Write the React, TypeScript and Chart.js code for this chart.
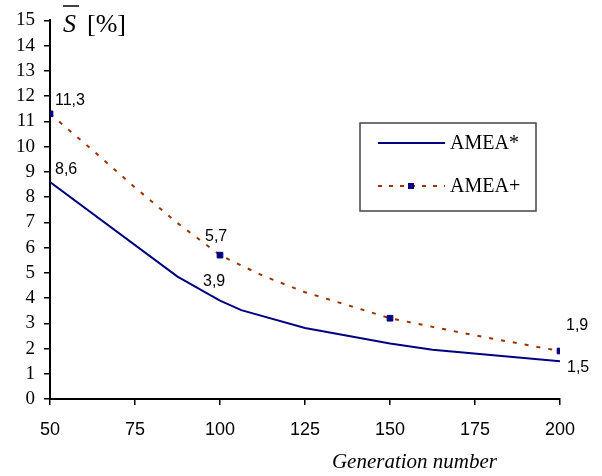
import React, { useEffect, useRef } from "react";
import { Chart, registerables } from "chart.js";

Chart.register(...registerables);

// ---- data ----
const genAStar = [50, 87.5, 100, 106.25, 125, 150, 162.5, 200];
const valAStar = [8.6, 4.85, 3.9, 3.52, 2.81, 2.2, 1.95, 1.5];

const genAPlus = [50, 62.5, 75, 87.5, 100, 112.5, 125, 137.5, 150, 175, 200];
const valAPlus = [11.3, 9.86, 8.38, 6.97, 5.7, 4.89, 4.23, 3.72, 3.2, 2.52, 1.9];

const markerGens = [50, 100, 150, 200];

const labelGens = [50, 100, 200];
const labelsAStar = ["8,6", "3,9", "1,5"];
const labelsAPlus = ["11,3", "5,7", "1,9"];

const xTickStep = 25;
const yTickStep = 1;
const seriesNames = ["AMEA*", "AMEA+"];
const xTitle = "Generation number";

// ---- styles ----
const NAVY = "#000080";
const BROWN = "#993300";
const SERIF = "'Liberation Serif', 'Times New Roman', serif";
const SANS = "'Liberation Sans', Arial, sans-serif";

// label offsets (px) relative to the data point: [dx, dy], left aligned, middle baseline
const offAStar = [[5, -12], [-17, -19], [7, 6]];
const offAPlus = [[5, -13], [-15, -19], [6, -25]];

const annotPlugin = {
  id: "annot",
  afterDatasetsDraw(chart: any) {
    const { ctx, scales } = chart;
    const xs = scales.x;
    const ys = scales.y;
    ctx.save();
    // data labels
    ctx.fillStyle = "#000";
    ctx.font = `16px ${SANS}`;
    ctx.textAlign = "left";
    ctx.textBaseline = "middle";
    labelGens.forEach((g, i) => {
      const ia = genAStar.indexOf(g);
      const ip = genAPlus.indexOf(g);
      const xa = xs.getPixelForValue(g);
      ctx.fillText(labelsAStar[i], xa + offAStar[i][0], ys.getPixelForValue(valAStar[ia]) + offAStar[i][1]);
      ctx.fillText(labelsAPlus[i], xa + offAPlus[i][0], ys.getPixelForValue(valAPlus[ip]) + offAPlus[i][1]);
    });

    // y title: S with overline [%]
    ctx.textBaseline = "alphabetic";
    ctx.font = `italic 26px ${SERIF}`;
    ctx.fillText("S", 63, 32);
    const sw = ctx.measureText("S").width;
    ctx.strokeStyle = "#000";
    ctx.lineWidth = 1.5;
    ctx.beginPath();
    ctx.moveTo(63, 6);
    ctx.lineTo(63 + sw + 3, 6);
    ctx.stroke();
    ctx.font = `26px ${SERIF}`;
    ctx.fillText("[%]", 87, 32);

    // x title
    ctx.font = `italic 21px ${SERIF}`;
    ctx.textAlign = "right";
    ctx.fillText(xTitle, 497, 468);

    // legend box
    const bx = 360, by = 123, bw = 176, bh = 88;
    ctx.fillStyle = "#fff";
    ctx.fillRect(bx, by, bw, bh);
    ctx.strokeStyle = "#444";
    ctx.lineWidth = 1.5;
    ctx.strokeRect(bx, by, bw, bh);
    // row 1
    ctx.strokeStyle = NAVY;
    ctx.lineWidth = 2;
    ctx.setLineDash([]);
    ctx.beginPath();
    ctx.moveTo(378, 143);
    ctx.lineTo(445, 143);
    ctx.stroke();
    // row 2
    ctx.strokeStyle = BROWN;
    ctx.setLineDash([4, 7]);
    ctx.beginPath();
    ctx.moveTo(378, 186);
    ctx.lineTo(445, 186);
    ctx.stroke();
    ctx.setLineDash([]);
    ctx.fillStyle = NAVY;
    ctx.fillRect(408, 183, 6, 6);
    ctx.fillStyle = "#000";
    ctx.textAlign = "left";
    ctx.textBaseline = "middle";
    ctx.font = `20px ${SERIF}`;
    ctx.fillText(seriesNames[0], 450, 144);
    ctx.fillText(seriesNames[1], 450, 187);
    ctx.restore();
  },
};

export default function App() {
  const ref = useRef<HTMLCanvasElement | null>(null);
  useEffect(() => {
    document.body.style.margin = "0";
    const canvas = ref.current;
    if (!canvas) return;
    const chart = new Chart(canvas, {
      type: "scatter",
      data: {
        datasets: [
          {
            label: seriesNames[0],
            data: genAStar.map((x, i) => ({ x, y: valAStar[i] })),
            showLine: true,
            borderColor: NAVY,
            borderWidth: 2,
            pointRadius: 0,
            tension: 0,
          },
          {
            label: seriesNames[1],
            data: genAPlus.map((x, i) => ({ x, y: valAPlus[i] })),
            showLine: true,
            borderColor: BROWN,
            borderWidth: 2,
            borderDash: [4, 8],
            tension: 0,
            pointStyle: "rect",
            pointRadius: (c: any) => (markerGens.includes(genAPlus[c.dataIndex]) ? 4 : 0),
            pointBackgroundColor: NAVY,
            pointBorderColor: NAVY,
            pointBorderWidth: 1,
          },
        ],
      },
      options: {
        responsive: false,
        animation: false,
        layout: { padding: { top: 16, right: 42, left: 0, bottom: 0 } },
        plugins: { legend: { display: false }, tooltip: { enabled: false } },
        scales: {
          x: {
            type: "linear",
            min: 50,
            max: 200,
            afterFit: (s: any) => {
              s.height = 77;
            },
            ticks: {
              stepSize: xTickStep,
              autoSkip: false,
              color: "#000",
              padding: 14,
              font: { family: SANS, size: 18 },
            },
            grid: {
              display: true,
              drawOnChartArea: false,
              drawTicks: true,
              tickLength: 6,
              color: "#000",
              lineWidth: 1.5,
            },
            border: { display: true, color: "#000", width: 2 },
          },
          y: {
            min: 0,
            max: 15,
            afterFit: (s: any) => {
              s.width = 50;
            },
            ticks: {
              stepSize: yTickStep,
              autoSkip: false,
              color: "#000",
              padding: 9,
              font: { family: SERIF, size: 19 },
            },
            grid: {
              display: true,
              drawOnChartArea: false,
              drawTicks: true,
              tickLength: 6,
              color: "#000",
              lineWidth: 1.5,
            },
            border: { display: true, color: "#000", width: 2 },
          },
        },
      },
      plugins: [annotPlugin],
    });
    return () => chart.destroy();
  }, []);
  return (
    <div style={{ width: 602, height: 476, background: "#fff" }}>
      <canvas ref={ref} width={602} height={476} style={{ display: "block" }} />
    </div>
  );
}
